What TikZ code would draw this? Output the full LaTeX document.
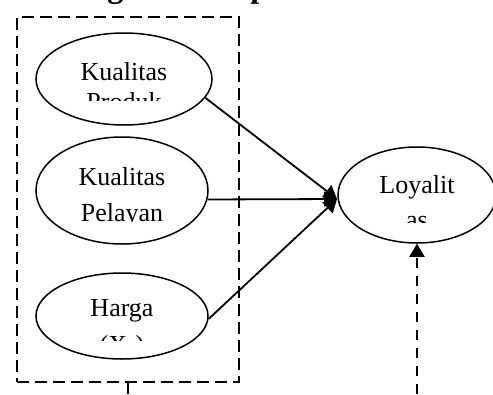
\documentclass[tikz,border=0pt]{standalone}
\usepackage{fontspec}
\setmainfont{Liberation Serif}
\usetikzlibrary{shapes.geometric}
\usetikzlibrary{arrows.meta}
\tikzset{
var/.style={ % ellipses for the variables
draw,
ellipse,
line width=1.5pt,
inner sep=0pt},
lbl/.style={font=\fontsize{26}{30}\selectfont, anchor=base, inner sep=0pt},
kotak/.style={draw, dash pattern=on 12pt off 6pt, line width=1.8pt,
minimum width=222, minimum height=365, inner sep=0pt},
pengaruh/.style={ % arrows into the dependent variable
draw,
line width=1.8pt,
-{Triangle[length=13pt,width=15pt]}}}

\begin{document}
\begin{tikzpicture}[x=1pt,y=-1pt]
\useasboundingbox (0,0) rectangle (493,394);
\node[font=\fontsize{32}{36}\selectfont\bfseries, anchor=base west, inner sep=0pt] (judul) at (20,-3) {Kerangka Konseptual};

\node[kotak] (x) at (128,199.5) {};
\node[var, minimum width=176, minimum height=92] (x1) at (124,79) {};
\node[var, minimum width=172, minimum height=107] (x2) at (122,190.5) {};
\node[var, minimum width=172, minimum height=86] (x3) at (122,316) {};
\node[var, minimum width=158, minimum height=96] (y) at (417,195) {};

% texts are cut off at the bottom of their boxes
\begin{scope}
\clip (40,40) rectangle (210,100);
\node[lbl] (x1a) at (124,80) {Kualitas};
\node[lbl] (x1b) at (124,110) {Produk};
\end{scope}
\begin{scope}
\clip (40,150) rectangle (210,221.5);
\node[lbl] (x2a) at (122,185) {Kualitas};
\node[lbl] (x2b) at (122,221) {Pelayan};
\end{scope}
\begin{scope}
\clip (40,280) rectangle (210,340);
\node[lbl] (x3a) at (122,316) {Harga};
\node[lbl] (x3b) at (122,353) {(X$_3$)};
\end{scope}
\begin{scope}
\clip (345,160) rectangle (490,222);
\node[lbl] (ya) at (417,193) {Loyalit};
\node[lbl] (yb) at (417,228) {as};
\end{scope}

\coordinate (temu) at (337,199);
\coordinate (ujung) at (128,394);
\coordinate (bawah) at (417,394);
\draw[pengaruh] (x1.-13) -- (temu);
\draw[pengaruh] (x2.-6) -- (temu);
\draw[pengaruh] (x3.-2) -- (temu);
\draw[line width=1.8pt] (x.south) -- (ujung);
\draw[pengaruh, line width=2.2pt, dash pattern=on 10pt off 8pt] (bawah) -- (y.south);
\end{tikzpicture}
\end{document}
